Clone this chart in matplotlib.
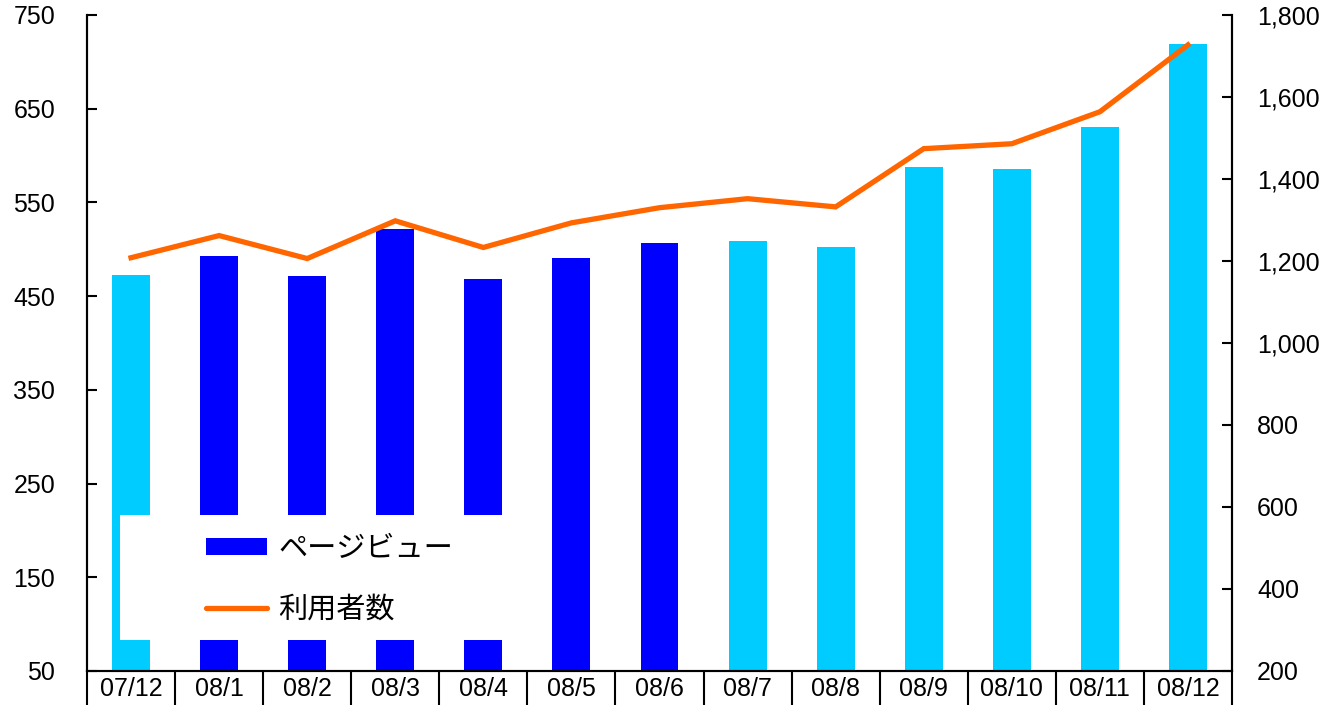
import matplotlib
matplotlib.use("Agg")
import matplotlib.pyplot as plt
from matplotlib.patches import Patch, Rectangle
from matplotlib.lines import Line2D

categories = ["07/12", "08/1", "08/2", "08/3", "08/4", "08/5", "08/6",
              "08/7", "08/8", "08/9", "08/10", "08/11", "08/12"]
page_views = [473, 493, 472, 522, 468, 491, 507, 509, 502, 588, 586, 631, 719]
users = [1208, 1262, 1206, 1298, 1233, 1293, 1330, 1352, 1332, 1474, 1486, 1564, 1727]
bar_colors = ["#00CCFF"] + ["#0000FF"] * 6 + ["#00CCFF"] * 6
left_ticks = [50, 150, 250, 350, 450, 550, 650, 750]
right_ticks = [200, 400, 600, 800, 1000, 1200, 1400, 1600, 1800]

fig = plt.figure(figsize=(13.34, 7.05), dpi=100)
AX_L, AX_R, AX_T, AX_B = 87, 1232, 15, 671
ax = fig.add_axes([AX_L/1334, (705-AX_B)/705, (AX_R-AX_L)/1334, (AX_B-AX_T)/705])
ax2 = ax.twinx()

x = list(range(len(categories)))
ax.bar(x, page_views, width=0.43, color=bar_colors, zorder=2)
ax2.plot(x, users, color="#FF6600", linewidth=3.8, solid_joinstyle="miter", zorder=3)

ax.set_xlim(-0.5, len(categories) - 0.5)
ax.set_ylim(50, 750)
ax2.set_ylim(200, 1800)

font = "Liberation Sans"
fs = 18
ax.set_yticks(left_ticks)
ax.set_yticklabels([str(v) for v in left_ticks], fontsize=fs, family=font)
ax2.set_yticks(right_ticks)
ax2.set_yticklabels([f"{v:,}" for v in right_ticks], fontsize=fs, family=font)
ax.tick_params(axis="y", direction="in", length=7, width=1.5, pad=23)
ax2.tick_params(axis="y", direction="in", length=7, width=1.5, pad=18)

# category boxes
ax.set_xticks([i - 0.5 for i in range(len(categories) + 1)])
ax.set_xticklabels([])
ax.tick_params(axis="x", which="major", direction="out", length=26, width=1.5)
ax.set_xticks(x, minor=True)
ax.set_xticklabels(categories, minor=True, fontsize=fs, family=font)
ax.tick_params(axis="x", which="minor", length=0, pad=4)

for a in (ax, ax2):
    a.spines["top"].set_visible(False)
    for s in ("left", "right", "bottom"):
        a.spines[s].set_linewidth(1.5)
        a.spines[s].set_color("black")

# legend with white background box
W, H = AX_R - AX_L, AX_B - AX_T
ax2.add_patch(Rectangle(((120-AX_L)/W, (AX_B-640)/H), (540-120)/W, (640-515)/H,
                        transform=ax2.transAxes, facecolor="white", edgecolor="none",
                        zorder=4))
handles = [Patch(facecolor="#0000FF", edgecolor="none"),
           Line2D([0], [0], color="#FF6600", linewidth=3.8, solid_capstyle="round")]
leg = ax2.legend(handles, ["ページビュー", "利用者数"], loc="center left",
                 bbox_to_anchor=((206-AX_L)/W, (AX_B-579)/H), frameon=False,
                 borderpad=0, borderaxespad=0, handlelength=2.1, handleheight=0.55,
                 handletextpad=0.38, labelspacing=1.05,
                 prop={"family": ["Noto Sans CJK JP", "DejaVu Sans"], "size": 21})
leg.set_zorder(5)

fig.savefig("out.png", dpi=100)
